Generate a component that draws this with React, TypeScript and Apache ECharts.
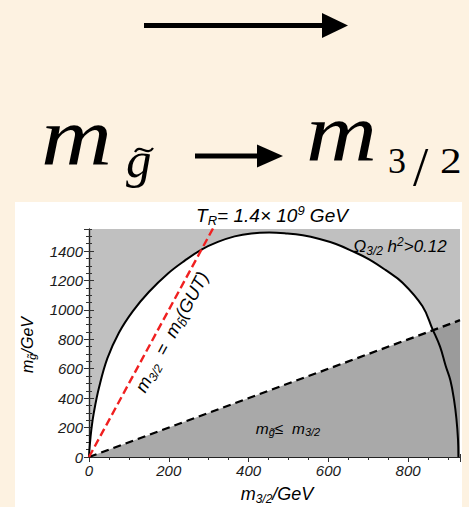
import React, { useEffect, useRef } from "react";
import * as echarts from "echarts";

// Ω_{3/2} h^2 = 0.12 boundary (T_R = 1.4e9 GeV)
const curveX = [0, 2, 6, 12, 25, 46, 75, 110, 150, 198, 240, 282, 323, 365, 407, 452, 494, 536, 578, 619, 660, 702, 744, 786, 836, 861, 880, 894, 906, 915, 921, 925, 926];
const curveY = [0, 80, 190, 300, 470, 670, 845, 992, 1122, 1248, 1335, 1410, 1462, 1500, 1520, 1526, 1520, 1507, 1482, 1448, 1400, 1344, 1270, 1185, 1025, 870, 750, 620, 520, 390, 260, 120, 0];
// m_gluino = m_3/2 line
const diagX = [0, 930];
const diagY = [0, 930];
// m_3/2 = m_b(GUT) line
const gutX = [0, 320];
const gutY = [0, 1600];

const X_MAX = 930;
const Y_MAX = 1550;

const SANS = "'Liberation Sans', Arial, Helvetica, sans-serif";
const SERIF = "'Liberation Serif', 'Times New Roman', Times, 'DejaVu Serif', serif";

const labelFont = {
  fontFamily: SANS,
  fontStyle: "italic" as const,
  fontSize: 15,
  color: "#1a1a1a",
};

function mkRich(size: number, color: string) {
  const base = { fontFamily: SANS, fontStyle: "italic", color };
  const small = Math.round(size * 0.68);
  return {
    i: { ...base, fontSize: size, lineHeight: size + 4, verticalAlign: "middle" },
    s: { ...base, fontSize: small, lineHeight: small, verticalAlign: "bottom" },
    p: { ...base, fontSize: small, lineHeight: small, verticalAlign: "top" },
  };
}

function xAxisDef(position: "bottom" | "top", minor: boolean, showLabel: boolean) {
  return {
    type: "value",
    min: 0,
    max: X_MAX,
    interval: minor ? 50 : 200,
    position,
    axisLine: { show: !minor, lineStyle: { color: "#222", width: 1.2 } },
    axisTick: { show: true, inside: true, length: minor ? 3 : 5, lineStyle: { color: "#333", width: 1 } },
    axisLabel: { show: showLabel, ...labelFont, margin: 6, showMaxLabel: false, formatter: (v: number) => String(v) },
    splitLine: { show: false },
  };
}

function yAxisDef(position: "left" | "right", minor: boolean, showLabel: boolean) {
  return {
    type: "value",
    min: 0,
    max: Y_MAX,
    interval: minor ? 50 : 200,
    position,
    axisLine: { show: !minor, lineStyle: { color: "#222", width: 1.2 } },
    axisTick: { show: true, inside: true, length: minor ? 3 : 5, lineStyle: { color: "#333", width: 1 } },
    axisLabel: { show: showLabel, ...labelFont, margin: 6, showMaxLabel: false, formatter: (v: number) => String(v) },
    splitLine: { show: false },
  };
}

function mathText(text: string, x: number, y: number, size: number, italic: boolean, scaleX = 1) {
  return {
    type: "text",
    z: 100,
    x,
    y,
    scaleX,
    style: {
      text: `{a|${text}}`,
      rich: {
        a: {
          fontFamily: SERIF,
          fontSize: size,
          fontStyle: italic ? "italic" : "normal",
          fontWeight: "normal",
          color: "#000",
          lineHeight: size,
        },
      },
      align: "left",
      verticalAlign: "middle",
    },
  };
}

function richText(text: string, x: number, y: number, size: number, color: string, rotation = 0) {
  return {
    type: "text",
    z: 100,
    x,
    y,
    rotation,
    style: { text, rich: mkRich(size, color), align: "center", verticalAlign: "middle" },
  };
}

export default function App() {
  const ref = useRef<HTMLDivElement>(null);
  useEffect(() => {
    const chart = echarts.init(ref.current!, null, { renderer: "svg" });
    const curve = curveX.map((x, i) => [x, curveY[i]]);
    const diag = diagX.map((x, i) => [x, diagY[i]]);
    const gut = gutX.map((x, i) => [x, gutY[i]]);
    const option: any = {
      animation: false,
      backgroundColor: "transparent",
      grid: {
        left: 89,
        right: 9,
        top: 229,
        bottom: 50,
        show: true,
        backgroundColor: "#c0c0c0",
        borderWidth: 0,
      },
      xAxis: [
        xAxisDef("bottom", false, true),
        xAxisDef("bottom", true, false),
        xAxisDef("top", false, false),
        xAxisDef("top", true, false),
      ],
      yAxis: [
        yAxisDef("left", false, true),
        yAxisDef("left", true, false),
        yAxisDef("right", false, false),
        yAxisDef("right", true, false),
      ],
      series: [
        {
          type: "line",
          data: curve,
          smooth: 0.4,
          symbol: "none",
          lineStyle: { color: "#000", width: 2 },
          areaStyle: { color: "#ffffff", opacity: 1 },
        },
        {
          type: "line",
          data: diag,
          symbol: "none",
          lineStyle: { color: "#000", width: 2.3, type: [8, 5] },
          areaStyle: { color: "rgba(145,145,145,0.78)", opacity: 1 },
        },
        {
          type: "line",
          data: gut,
          symbol: "none",
          clip: true,
          lineStyle: { color: "#f02020", width: 2.4, type: [8, 4] },
        },
      ],
      graphic: [
        { type: "rect", z: -100, shape: { x: 15, y: 202, width: 447, height: 305 }, style: { fill: "#ffffff" } },
        // top arrow
        { type: "line", z: 100, shape: { x1: 144, y1: 25.5, x2: 326, y2: 25.5 }, style: { stroke: "#000", lineWidth: 5 } },
        { type: "polygon", z: 100, shape: { points: [[322, 13], [348, 25.5], [322, 38]] }, style: { fill: "#000" } },
        // middle arrow
        { type: "line", z: 100, shape: { x1: 195, y1: 156, x2: 262, y2: 156 }, style: { stroke: "#000", lineWidth: 5 } },
        { type: "polygon", z: 100, shape: { points: [[257, 144.5], [283, 156], [257, 167.5]] }, style: { fill: "#000" } },
        // m_g~
        mathText("m", 41, 136, 82, true, 1.2),
        mathText("g", 126, 160, 51, true),
        {
          type: "bezierCurve",
          z: 100,
          shape: { x1: 135, y1: 152, x2: 153, y2: 148, cpx1: 140, cpy1: 143, cpx2: 147, cpy2: 157 },
          style: { stroke: "#000", lineWidth: 2.2, fill: "none" },
        },
        // m_{3/2}
        mathText("m", 306, 132, 82, true, 1.2),
        mathText("3", 388, 161, 36, false),
        mathText("/", 413, 166, 55, false),
        mathText("2", 440, 161, 36, false, 1.2),
        // chart texts
        richText("{i|T}{s|R}{i|= 1.4× 10}{p|9}{i| GeV}", 272, 215, 19, "#111"),
        richText("{i|Ω}{s|3/2}{i| h}{p|2}{i|>0.12}", 400, 246, 17, "#222"),
        richText("{i|m}{s|g̃}{i|≤  m}{s|3/2}", 288, 428, 15.5, "#222"),
        richText("{i|m}{s|3/2}{i|  =  m}{s|b̃}{i|(GUT)}", 172, 332, 18, "#f02020", (61.5 * Math.PI) / 180),
        // axis names
        richText("{i|m}{s|3/2}{i|/GeV}", 277, 494, 18, "#111"),
        richText("{i|m}{s|g̃}{i|/GeV}", 27, 345, 16, "#111", Math.PI / 2),
      ],
    };
    chart.setOption(option);
    return () => chart.dispose();
  }, []);
  return (
    <div
      ref={ref}
      style={{ position: "fixed", left: 0, top: 0, width: 469, height: 507, background: "#fdf2e1" }}
    />
  );
}
